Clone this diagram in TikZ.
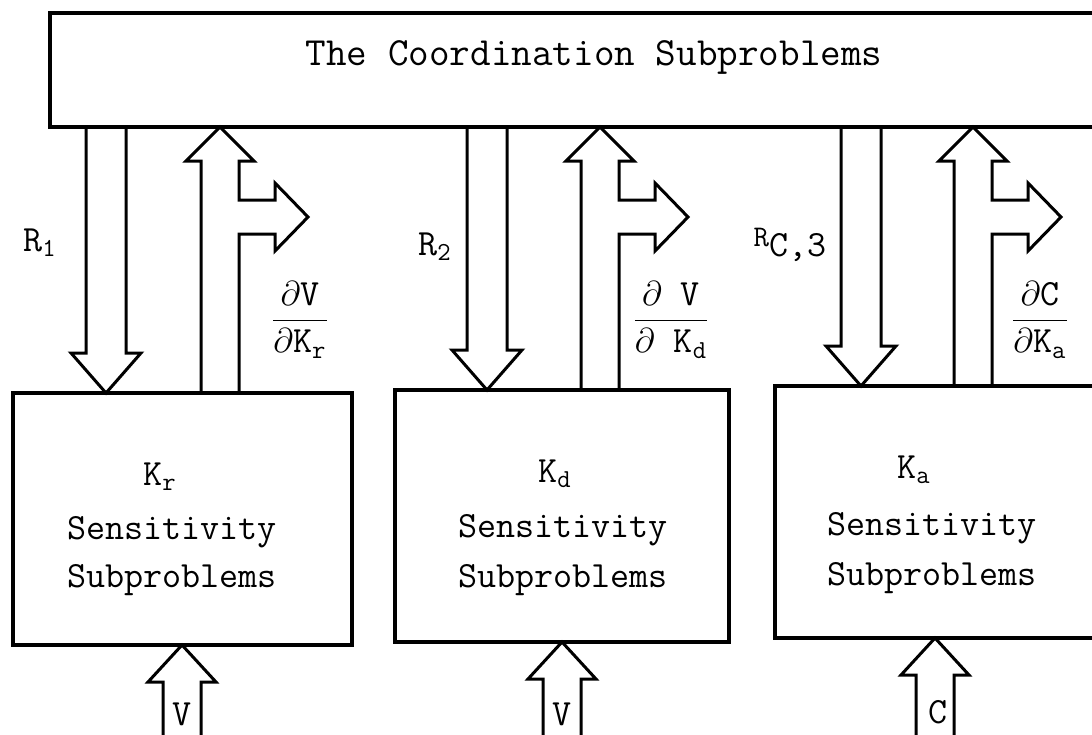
\documentclass[tikz,border=0pt]{standalone}
\usetikzlibrary{calc}

\begin{document}
\begin{tikzpicture}[x=0.5pt,y=-0.5pt,
  every node/.style={font=\fontsize{18.5}{22}\selectfont\ttfamily},
  box/.style={draw,line width=1.8pt,inner sep=0pt,outer sep=0pt},
  blk/.style={draw,line width=1.5pt,line join=miter}]

\useasboundingbox (0,0) rectangle (1092,734);

% the boxes
\node[box,minimum width=530pt,minimum height=57pt] (coord) at (580,70) {};
\node[box,minimum width=169.5pt,minimum height=126pt] (sens1) at (182.5,519) {};
\node[box,minimum width=167pt,minimum height=126pt] (sens2) at (562,516) {};
\node[box,minimum width=167.5pt,minimum height=126pt] (sens3) at (942.5,512) {};

\node[font=\fontsize{20}{24}\selectfont\ttfamily] (coordtxt) at (594,57) {The Coordination Subproblems};

\node (k1) at (160,477) {K\textsubscript{r}};
\node (sa1) at (172,532) {Sensitivity};
\node (sb1) at (172,580) {Subproblems};
\node (k2) at (555,474) {K\textsubscript{d}};
\node (sa2) at (563,530) {Sensitivity};
\node (sb2) at (563,580) {Subproblems};
\node (k3) at (914,470) {K\textsubscript{a}};
\node (sa3) at (932,528) {Sensitivity};
\node (sb3) at (932,578) {Subproblems};

% arrows between the levels
\foreach \i/\d/\u/\v in {1/106/220/182, 2/487/600/562, 3/861/973/935}{
  \coordinate (dtop\i) at (\d,0 |- coord.south);
  \coordinate (dtip\i) at (\d,0 |- sens\i.north);
  \coordinate (utip\i) at (\u,0 |- coord.south);
  \coordinate (ubot\i) at (\u,0 |- sens\i.north);
  \coordinate (btip\i) at (\v,0 |- sens\i.south);

  \draw[blk] ($(dtop\i)+(-20,0)$) -- ($(dtip\i)+(-20,-40)$) -- ($(dtip\i)+(-35,-40)$) -- (dtip\i)
    -- ($(dtip\i)+(35,-40)$) -- ($(dtip\i)+(20,-40)$) -- ($(dtop\i)+(20,0)$);

  \draw[blk] ($(ubot\i)+(-19,0)$) -- ($(utip\i)+(-19,34)$) -- ($(utip\i)+(-34,34)$) -- (utip\i)
    -- ($(utip\i)+(34,34)$) -- ($(utip\i)+(19,34)$) -- ($(utip\i)+(19,73)$) -- ($(utip\i)+(55,73)$)
    -- ($(utip\i)+(55,56)$) -- ($(utip\i)+(88,90)$) -- ($(utip\i)+(55,124)$) -- ($(utip\i)+(55,107)$)
    -- ($(utip\i)+(19,107)$) -- ($(ubot\i)+(19,0)$);

  \draw[blk] ($(btip\i)+(-19,100)$) -- ($(btip\i)+(-19,37)$) -- ($(btip\i)+(-34,37)$) -- (btip\i)
    -- ($(btip\i)+(34,37)$) -- ($(btip\i)+(19,37)$) -- ($(btip\i)+(19,100)$);
}

\node (r1) at (40,243) {R\textsubscript{1}};
\node (r2) at (435,247) {R\textsubscript{2}};
\node (r3) at (790,245) {\raisebox{5pt}{\fontsize{15}{17}\selectfont R}C,3};

\node (g1) at (300,320) {$\displaystyle\frac{\partial\mbox{V}}{\partial\mbox{K\textsubscript{r}}}$};
\node (g2) at (671,320) {$\displaystyle\frac{\partial\mbox{ V}}{\partial\mbox{ K\textsubscript{d}}}$};
\node (g3) at (1040,320) {$\displaystyle\frac{\partial\mbox{C}}{\partial\mbox{K\textsubscript{a}}}$};

\node (in1) at (182,714) {V};
\node (in2) at (562,714) {V};
\node (in3) at (938,712) {C};

\end{tikzpicture}
\end{document}
